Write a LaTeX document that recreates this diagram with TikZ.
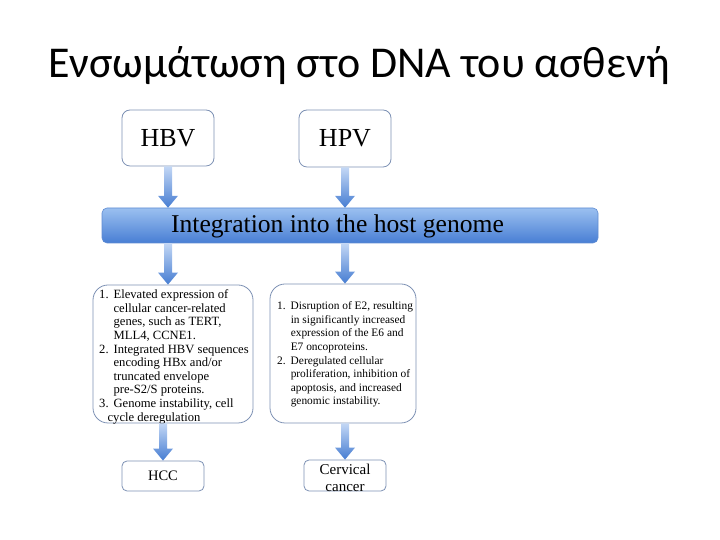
\documentclass[tikz,border=0pt]{standalone}
\usepackage{fontspec}
\setmainfont{Liberation Serif}
\newfontfamily\titlefont{Carlito}
\usetikzlibrary{calc}
\definecolor{boxedge}{RGB}{125,145,180}
\definecolor{arrtop}{RGB}{195,215,245}
\definecolor{arrbot}{RGB}{70,125,210}
\definecolor{bartop}{RGB}{155,192,240}
\definecolor{barbot}{RGB}{72,126,212}
\definecolor{baredge}{RGB}{95,140,210}
\newcommand\fatarrow[2]{%
  \shade[top color=arrtop, bottom color=arrbot]
    ($(#1)+(-4,0)$) -- ($(#2)+(-4,12)$) -- ($(#2)+(-10,12)$) -- (#2)
    -- ($(#2)+(10,12)$) -- ($(#2)+(4,12)$) -- ($(#1)+(4,0)$) -- cycle;}
\begin{document}
\begin{tikzpicture}[x=1pt,y=1pt,
  vbox/.style={draw=boxedge, line width=0.8pt, fill=white, rounded corners=8pt, inner sep=0pt},
  listbox/.style={draw=boxedge, line width=0.8pt, fill=white, rounded corners=15pt, inner sep=0pt},
  listtext/.style={anchor=north west, inner sep=0pt},
]
\useasboundingbox (0,0) rectangle (720,540);
\node[font=\titlefont\fontsize{44}{52}\selectfont, anchor=base, inner sep=0pt] (title) at (359,462) {Ενσωμάτωση στο DNA του ασθενή};

\node[vbox, minimum width=92pt, minimum height=56pt, font=\fontsize{26}{30}\selectfont] (hbv) at (168,402) {HBV};
\node[vbox, minimum width=92pt, minimum height=57pt, font=\fontsize{26}{30}\selectfont] (hpv) at (345,401.5) {HPV};

\shade[top color=bartop, bottom color=barbot, draw=baredge, line width=0.6pt, rounded corners=5pt] (102,297) rectangle (598,332);
\node[inner sep=0pt, minimum width=496pt, minimum height=35pt] (bar) at (350,314.5) {};
\node[font=\fontsize{25.6}{30}\selectfont, inner sep=0pt] (bartext) at (337.5,313.5) {Integration into the host genome};

\node[listbox, minimum width=160pt, minimum height=138pt] (lbox) at (173,186) {};
\node[listbox, minimum width=146pt, minimum height=139pt] (rbox) at (343,186.5) {};

\node[listtext, font=\fontsize{12.6}{13.6}\selectfont] (ltext) at (99,251) {%
\begin{tabular}{@{}r@{\hspace{5pt}}l@{}}
1. & Elevated expression of\\
 & cellular cancer-related\\
 & genes, such as TERT,\\
 & MLL4, CCNE1.\\
2. & Integrated HBV sequences\\
 & encoding HBx and/or\\
 & truncated envelope\\
 & pre-S2/S proteins.\\
3. & Genome instability, cell\\
 & \hspace{-6pt}cycle deregulation
\end{tabular}};

\node[listtext, font=\fontsize{11.4}{13.6}\selectfont] (rtext) at (277,240) {%
\begin{tabular}{@{}r@{\hspace{5pt}}l@{}}
1. & Disruption of E2, resulting\\
 & in significantly increased\\
 & expression of the E6 and\\
 & E7 oncoproteins.\\
2. & Deregulated cellular\\
 & proliferation, inhibition of\\
 & apoptosis, and increased\\
 & genomic instability.
\end{tabular}};

\node[vbox, rounded corners=5pt, minimum width=82pt, minimum height=30pt, font=\fontsize{14.5}{17}\selectfont] (hcc) at (163,64) {HCC};
\node[vbox, rounded corners=5pt, minimum width=82pt, minimum height=31pt] (cerv) at (345,64.5) {};
\node[font=\fontsize{15}{17}\selectfont, align=center, inner sep=0pt] (cervtext) at (345,62.5) {Cervical\\cancer};

\fatarrow{hbv.south}{hbv.south |- bar.north}
\fatarrow{hpv.south}{hpv.south |- bar.north}
\fatarrow{bar.south -| hbv.south}{hbv.south |- lbox.north}
\fatarrow{bar.south -| hpv.south}{hpv.south |- rbox.north}
\fatarrow{lbox.south -| hcc.north}{hcc.north}
\fatarrow{rbox.south -| cerv.north}{cerv.north}
\end{tikzpicture}
\end{document}
